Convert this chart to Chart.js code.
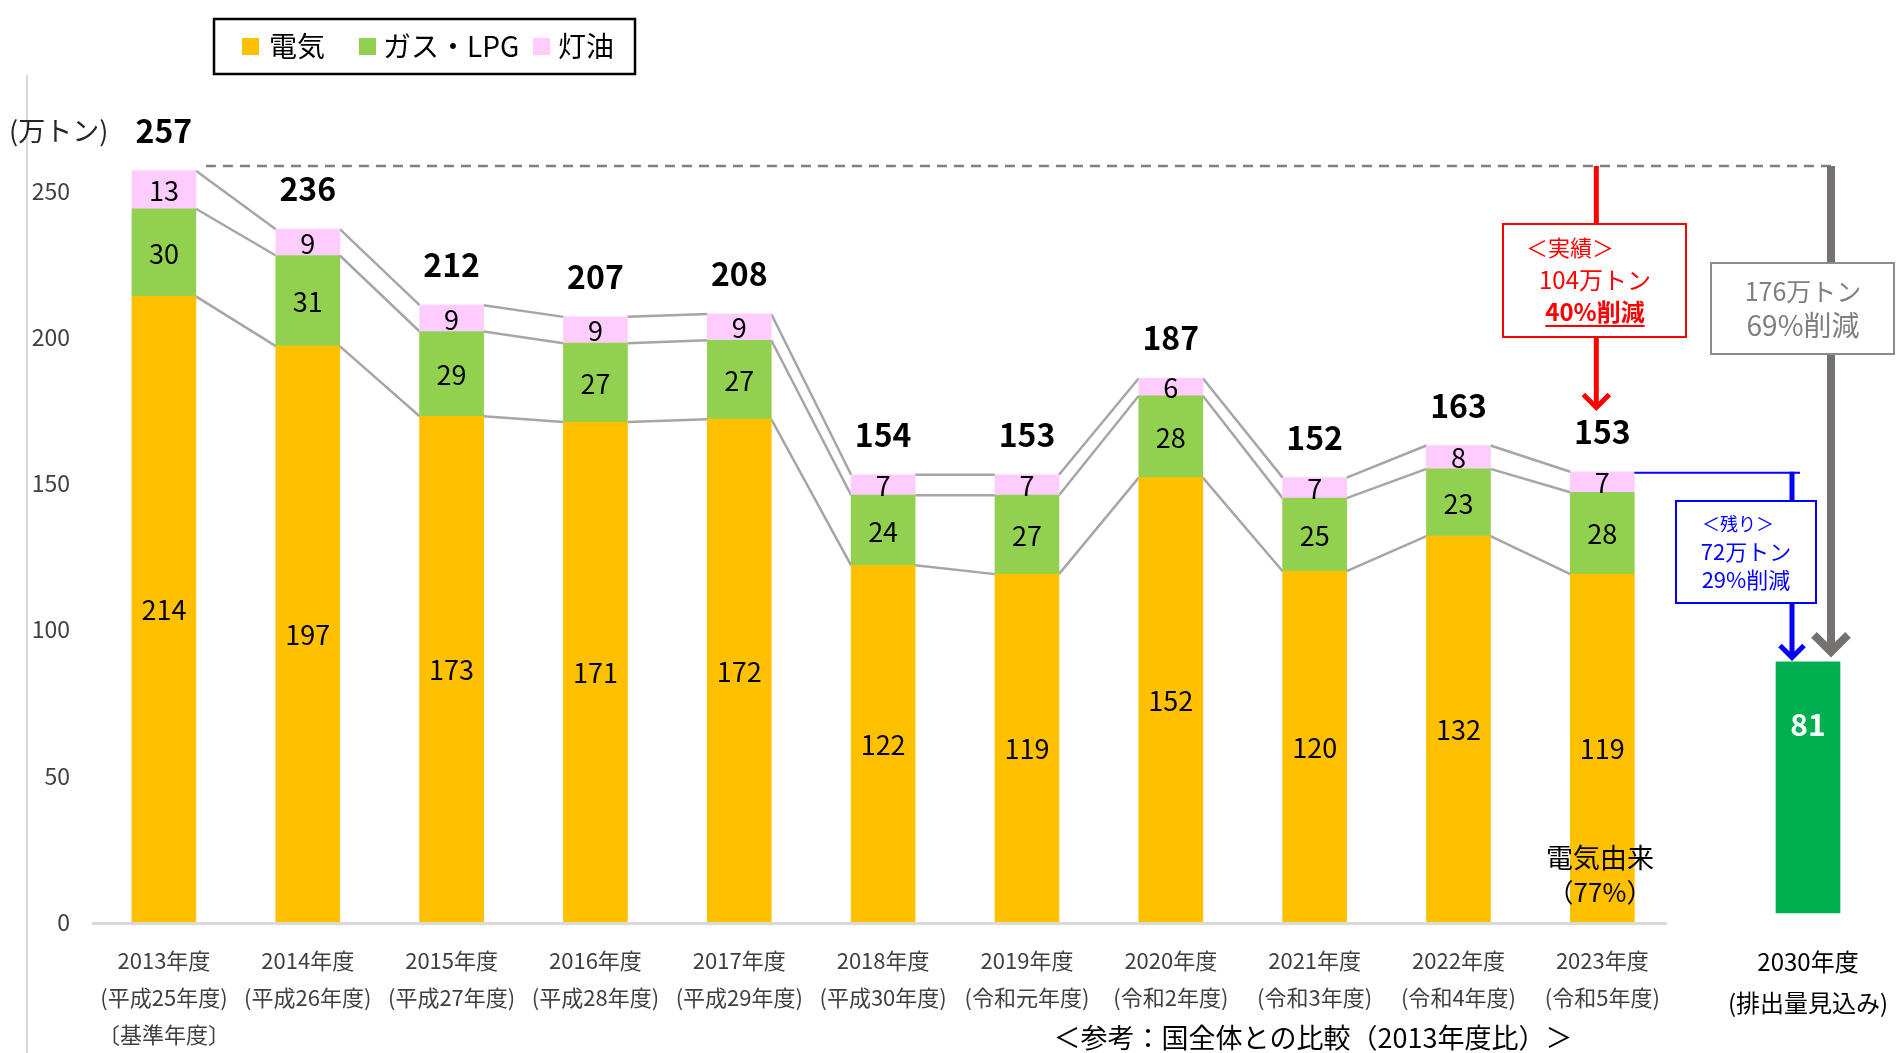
<!DOCTYPE html>
<html lang="ja">
<head>
<meta charset="utf-8">
<title>家庭部門のCO2排出量</title>
<script src="https://cdn.jsdelivr.net/npm/chart.js@4.4.1/dist/chart.umd.min.js"></script>
<style>
  html, body { margin: 0; padding: 0; background: #fff; }
  canvas { display: block; }
</style>
</head>
<body>
<canvas id="chart" width="1901" height="1053"></canvas>
<script>
// values (万トン)
const years = ['2013年度', '2014年度', '2015年度', '2016年度', '2017年度', '2018年度',
               '2019年度', '2020年度', '2021年度', '2022年度', '2023年度'];
const eras = ['(平成25年度)', '(平成26年度)', '(平成27年度)', '(平成28年度)', '(平成29年度)',
              '(平成30年度)', '(令和元年度)', '(令和2年度)', '(令和3年度)', '(令和4年度)', '(令和5年度)'];
const baseYearNote = '〔基準年度〕';
const electricity = [214, 197, 173, 171, 172, 122, 119, 152, 120, 132, 119];
const gasLpg = [30, 31, 29, 27, 27, 24, 27, 28, 25, 23, 28];
const kerosene = [13, 9, 9, 9, 9, 7, 7, 6, 7, 8, 7];
const totals = [257, 236, 212, 207, 208, 154, 153, 187, 152, 163, 153];
const outlookLabel = ['2030年度', '(排出量見込み)'];
const outlookValue = 81;
const yTicks = [0, 50, 100, 150, 200, 250];

const OUTLOOK_X = 11.43; // 2030 bar sits further right than the yearly bars
const JP = "'Noto Sans CJK JP', 'Noto Sans', sans-serif";
Chart.defaults.font.family = JP;

const xPositions = years.map((_, i) => i).concat([OUTLOOK_X]);

function text(ctx, s, x, y, size, color, weight, align) {
  ctx.font = (weight || 'normal') + ' ' + size + 'px ' + JP;
  ctx.fillStyle = color;
  ctx.textAlign = align || 'center';
  ctx.textBaseline = 'middle';
  ctx.fillText(s, x, y);
}

function seg(ctx, x1, y1, x2, y2) {
  ctx.beginPath();
  ctx.moveTo(x1, y1);
  ctx.lineTo(x2, y2);
  ctx.stroke();
}

function arrow(ctx, x, y1, y2, color, width, head) {
  ctx.strokeStyle = color;
  ctx.lineWidth = width;
  ctx.lineJoin = 'miter';
  seg(ctx, x, y1, x, y2 - width / 2);
  ctx.beginPath();
  ctx.moveTo(x - head, y2 - head - width / 2);
  ctx.lineTo(x, y2 - width / 2);
  ctx.lineTo(x + head, y2 - head - width / 2);
  ctx.stroke();
}

function box(ctx, x, y, w, h, color) {
  ctx.fillStyle = '#fff';
  ctx.fillRect(x, y, w, h);
  ctx.strokeStyle = color;
  ctx.lineWidth = 2;
  ctx.strokeRect(x, y, w, h);
}

const overlay = {
  id: 'overlay',
  beforeDatasetsDraw(chart) {
    const ctx = chart.ctx;
    const xs = chart.scales.x, ys = chart.scales.y;
    ctx.save();
    // left separator line
    ctx.strokeStyle = '#d9d9d9';
    ctx.lineWidth = 2;
    seg(ctx, 27, 75, 27, 1053);
    // zero line under the yearly bars only
    ctx.lineWidth = 3;
    const y0 = ys.getPixelForValue(0) + 1.5;
    seg(ctx, xs.getPixelForValue(-0.5), y0, xs.getPixelForValue(years.length - 0.55), y0);
    // series lines between stacked segments
    ctx.strokeStyle = '#a6a6a6';
    ctx.lineWidth = 2.5;
    for (let d = 0; d < 3; d++) {
      const els = chart.getDatasetMeta(d).data;
      for (let i = 0; i < els.length - 1; i++) {
        const a = els[i], b = els[i + 1];
        seg(ctx, a.x + a.width / 2, a.y, b.x - b.width / 2, b.y);
      }
    }
    ctx.restore();
  },
  afterDatasetsDraw(chart) {
    const ctx = chart.ctx;
    ctx.save();
    // segment values
    for (let d = 0; d < 3; d++) {
      const ds = chart.data.datasets[d];
      chart.getDatasetMeta(d).data.forEach((el, i) => {
        text(ctx, String(ds.data[i].y), el.x, (el.y + el.base) / 2 + 1, 27, '#000');
      });
    }
    // totals above bars
    const tops = chart.getDatasetMeta(2).data;
    tops.forEach((el, i) => {
      text(ctx, String(totals[i]), el.x, el.y - 40, 32, '#000', 'bold');
    });
    // 2030 value
    const g = chart.getDatasetMeta(3).data[0];
    text(ctx, String(outlookValue), g.x, g.y + 63, 30, '#fff', 'bold');

    // unit
    text(ctx, '(万トン)', 9, 131, 27, '#262626', 'normal', 'left');

    // legend
    ctx.strokeStyle = '#000';
    ctx.lineWidth = 2.5;
    ctx.strokeRect(214, 19, 421, 55);
    const legendItems = [[242, 269], [359, 383], [533, 558]];
    legendItems.forEach((p, d) => {
      const ds = chart.data.datasets[d];
      ctx.fillStyle = ds.backgroundColor;
      ctx.fillRect(p[0], 38, 17, 17);
      text(ctx, ds.label, p[1], 46, 28, '#000', 'normal', 'left');
    });

    // dashed base line at the 2013 level
    const last = tops[tops.length - 1];
    const yDash = 166;
    ctx.strokeStyle = '#7f7f7f';
    ctx.lineWidth = 2.5;
    ctx.setLineDash([10, 7]);
    seg(ctx, tops[0].x + 42, yDash, 1831, yDash);
    ctx.setLineDash([]);

    // gray arrow: 2013 -> 2030
    arrow(ctx, 1831, yDash, g.y - 6, '#767171', 8, 17);
    box(ctx, 1711, 263, 183, 91, '#8c8c8c');
    text(ctx, '176万トン', 1803, 291, 25, '#7f7f7f');
    text(ctx, '69%削減', 1803, 325, 28, '#7f7f7f');

    // red arrow: 2013 -> 2023
    const xr = last.x - 6;
    arrow(ctx, xr, yDash, 410, '#ff0000', 5, 13);
    box(ctx, 1503, 224, 183, 113, '#ff0000');
    text(ctx, '＜実績＞', 1570, 248, 22, '#ff0000');
    text(ctx, '104万トン', 1595, 280, 24, '#ff0000');
    text(ctx, '40%削減', 1595, 312, 24, '#ff0000', 'bold');
    ctx.font = 'bold 24px ' + JP;
    const uw = ctx.measureText('40%削減').width;
    ctx.strokeStyle = '#ff0000';
    ctx.lineWidth = 2;
    seg(ctx, 1595 - uw / 2, 326, 1595 + uw / 2, 326);

    // blue arrow: 2023 -> 2030
    ctx.strokeStyle = '#0000ff';
    ctx.lineWidth = 2;
    seg(ctx, last.x + last.width / 2, last.y + 1, 1800, last.y + 1);
    arrow(ctx, 1792, last.y, g.y - 2, '#0000ff', 5, 12);
    box(ctx, 1676, 501, 140, 102, '#0000ff');
    text(ctx, '＜残り＞', 1738, 524, 18, '#0000ff');
    text(ctx, '72万トン', 1746, 552, 22, '#0000ff');
    text(ctx, '29%削減', 1746, 580, 22, '#0000ff');

    // electricity share note
    text(ctx, '電気由来', 1600, 858, 27, '#000');
    text(ctx, '（77%）', 1600, 892, 26, '#000');

    // reference note
    text(ctx, '＜参考：国全体との比較（2013年度比）＞', 1313, 1038, 27, '#000');
    ctx.restore();
  }
};

new Chart(document.getElementById('chart'), {
  type: 'bar',
  data: {
    datasets: [
      { label: '電気', data: electricity.map((v, i) => ({ x: i, y: v })),
        backgroundColor: '#ffc000', stack: 's' },
      { label: 'ガス・LPG', data: gasLpg.map((v, i) => ({ x: i, y: v })),
        backgroundColor: '#92d050', stack: 's' },
      { label: '灯油', data: kerosene.map((v, i) => ({ x: i, y: v })),
        backgroundColor: '#ffccff', stack: 's' },
      { label: '2030年度', data: [{ x: OUTLOOK_X, y: outlookValue }],
        backgroundColor: '#00b050', stack: 's', yAxisID: 'outlook' }
    ]
  },
  options: {
    responsive: false,
    animation: false,
    barThickness: 64,
    layout: { padding: { left: 32, right: 11, top: 45, bottom: 0 } },
    plugins: { legend: { display: false }, tooltip: { enabled: false } },
    scales: {
      x: {
        type: 'linear', min: -0.5, max: 12, stacked: true, offset: false,
        grid: { display: false, drawTicks: false, offset: false }, border: { display: false },
        afterBuildTicks: s => { s.ticks = xPositions.map(v => ({ value: v })); },
        afterFit: s => { s.height = 131; s.paddingLeft = 0; s.paddingRight = 0; },
        ticks: {
          autoSkip: false, maxRotation: 0, padding: 20,
          font: c => ({ size: c.index === years.length ? 24 : 22, lineHeight: 1.68 }),
          color: c => c.index === years.length ? '#000' : '#404040',
          callback: (v, i) => {
            if (i === years.length) return outlookLabel;
            return i === 0 ? [years[0], eras[0], baseYearNote] : [years[i], eras[i]];
          }
        }
      },
      y: {
        min: 0, max: 300, stacked: true,
        grid: { display: false, drawTicks: false }, border: { display: false },
        afterBuildTicks: s => { s.ticks = yTicks.map(v => ({ value: v })); },
        afterFit: s => { s.width = 60; },
        ticks: { padding: 22, font: { size: 23 }, color: '#404040' }
      },
      // the 2030 outlook bar is drawn on its own (hidden) scale in the source figure
      outlook: {
        display: false, min: -2.9, max: 280, stacked: true
      }
    }
  },
  plugins: [overlay]
});
</script>
</body>
</html>
